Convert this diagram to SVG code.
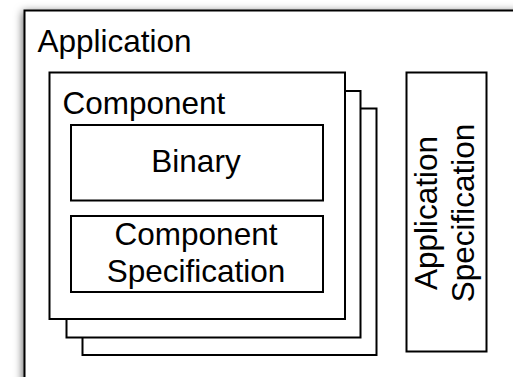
<svg xmlns="http://www.w3.org/2000/svg" width="513" height="377" viewBox="0 0 513 377">
<defs>
<filter id="sh" x="-10%" y="-10%" width="130%" height="130%">
<feDropShadow dx="-1" dy="2" stdDeviation="4" flood-color="#000" flood-opacity="0.6"/>
</filter>
<style>
.box{fill:#fff;stroke:#000;stroke-width:2}
.t{font-family:"Liberation Sans",Arial,Helvetica,sans-serif;font-size:31.5px;fill:#000}
.m{text-anchor:middle}
</style>
</defs>
<rect width="513" height="377" fill="#fff"/>
<g id="application">
<rect class="box" x="24.5" y="10.5" width="520" height="400" filter="url(#sh)"/>
<text class="t" x="37.5" y="51.5">Application</text>
</g>
<g id="component-stack">
<rect class="box" x="82.5" y="108.5" width="294" height="246.5"/>
<rect class="box" x="66.5" y="91" width="294" height="246.5"/>
</g>
<g id="component">
<rect class="box" x="49.5" y="72.5" width="295.5" height="246.5"/>
<text class="t" x="62.5" y="113.5">Component</text>
</g>
<g id="binary">
<rect class="box" x="71" y="125" width="252" height="75.5"/>
<text class="t m" x="196" y="171.5">Binary</text>
</g>
<g id="component-specification">
<rect class="box" x="71" y="216" width="252" height="76"/>
<text class="t m" x="196" y="245">Component</text>
<text class="t m" x="196" y="281.5">Specification</text>
</g>
<g id="application-specification">
<rect class="box" x="406.5" y="72.5" width="80" height="279"/>
<text class="t m" transform="translate(436.5,213) rotate(-90)">Application</text>
<text class="t m" transform="translate(473.5,213) rotate(-90)">Specification</text>
</g>
<g id="connectors"/>
</svg>
